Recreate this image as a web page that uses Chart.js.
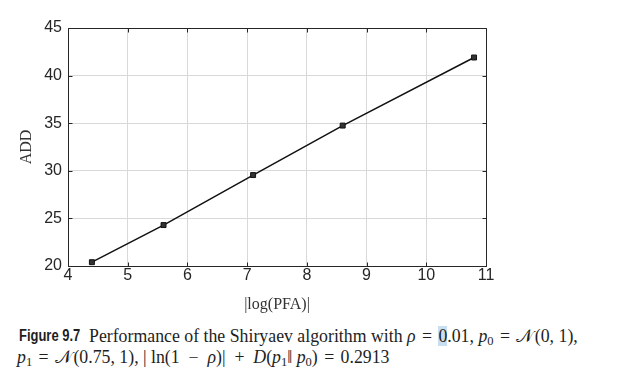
<!DOCTYPE html>
<html>
<head>
<meta charset="utf-8">
<script src="https://cdn.jsdelivr.net/npm/chart.js@4.4.1/dist/chart.umd.min.js"></script>
<style>
  html, body { margin: 0; padding: 0; background: #fff; }
  body { width: 624px; height: 374px; position: relative; overflow: hidden; }
  #wrap { position: absolute; left: 0; top: 0; width: 624px; height: 314px; }
  .cap { position: absolute; font-family: "Liberation Serif", "Times New Roman", serif; font-size: 17.8px; color: #1e1e1e; white-space: nowrap; line-height: 20px; }
  .fig { position: absolute; left: 19px; top: 326px; font-family: "Liberation Sans", Arial, sans-serif; font-weight: bold; font-size: 16px; line-height: 20px; color: #1e1e1e; white-space: nowrap; transform: scaleX(0.81); transform-origin: left center; }
  .m { font-style: italic; }
  sub { font-size: 12.5px; vertical-align: -3px; line-height: 0; font-style: normal; }
  .rel { margin: 0 0.36em; }
  .bin { margin: 0 0.5em; }
  .cal { font-style: normal; margin-right: 0.08em; }
  .hl { background: #c9dff0; }
</style>
</head>
<body>
<div id="wrap"><canvas id="c" width="624" height="314"></canvas></div>
<div class="fig">Figure 9.7</div>
<div class="cap" style="left:89px; top:326px;">Performance of the Shiryaev algorithm with <span class="m">ρ</span><span class="rel">=</span><span class="hl">0</span>.01, <span class="m">p</span><sub>0</sub><span class="rel">=</span><span class="cal">𝒩</span>(0, 1),</div>
<div class="cap" style="left:17px; top:347px;"><span class="m">p</span><sub>1</sub><span class="rel">=</span><span class="cal">𝒩</span>(0.75, 1), | ln(1<span class="bin">−</span><span class="m">ρ</span>)|<span class="bin">+</span><span class="m">D</span>(<span class="m">p</span><sub>1</sub>‖ <span class="m">p</span><sub>0</sub>)<span class="rel">=</span>0.2913</div>
<script>
const logPFA = [4.4, 5.6, 7.1, 8.6, 10.8];
const addValues = [20.4, 24.3, 29.55, 34.75, 41.9];
const xTicks = [4, 5, 6, 7, 8, 9, 10, 11];
const yTicks = [20, 25, 30, 35, 40, 45];
const xTitle = '|log(PFA)|';
const yTitle = 'ADD';

const points = logPFA.map((x, i) => ({ x: x, y: addValues[i] }));

const framePlugin = {
  id: 'frame',
  afterDraw(chart) {
    const { ctx, chartArea: a, scales } = chart;
    ctx.save();
    ctx.strokeStyle = '#262626';
    ctx.lineWidth = 1;
    const L = Math.round(a.left) + 0.5, R = Math.round(a.right) + 0.5;
    const T = Math.round(a.top) + 0.5, B = Math.round(a.bottom) + 0.5;
    ctx.beginPath();
    ctx.rect(L, T, R - L, B - T);
    ctx.stroke();
    const tl = 4;
    ctx.beginPath();
    xTicks.forEach(v => {
      const px = Math.round(scales.x.getPixelForValue(v)) + 0.5;
      ctx.moveTo(px, B); ctx.lineTo(px, B - tl);
      ctx.moveTo(px, T); ctx.lineTo(px, T + tl);
    });
    yTicks.forEach(v => {
      const py = Math.round(scales.y.getPixelForValue(v)) + 0.5;
      ctx.moveTo(L, py); ctx.lineTo(L + tl, py);
      ctx.moveTo(R, py); ctx.lineTo(R - tl, py);
    });
    ctx.stroke();
    ctx.restore();
  }
};

new Chart(document.getElementById('c'), {
  type: 'scatter',
  data: {
    datasets: [{
      data: points,
      showLine: true,
      borderColor: '#111',
      borderWidth: 1.5,
      backgroundColor: '#333',
      pointStyle: 'rect',
      pointRadius: 3.5,
      pointBorderColor: '#111',
      pointBorderWidth: 1,
      tension: 0
    }]
  },
  options: {
    responsive: false,
    animation: false,
    events: [],
    layout: { padding: { left: 0, top: 28, right: 138, bottom: 0 } },
    plugins: { legend: { display: false }, tooltip: { enabled: false } },
    scales: {
      x: {
        type: 'linear', min: 4, max: 11,
        afterBuildTicks: s => { s.ticks = xTicks.map(v => ({ value: v })); },
        afterFit: s => { s.height = 48; },
        grid: { color: '#d9d9d9', lineWidth: 1, drawTicks: false },
        border: { display: false },
        ticks: { color: '#262626', padding: 0, font: { family: '"Liberation Sans", Arial, sans-serif', size: 16 }, maxRotation: 0 },
        title: { display: true, text: xTitle, color: '#333', font: { family: '"Liberation Serif", "Times New Roman", serif', size: 16 }, padding: { top: 0, bottom: 0 } }
      },
      y: {
        type: 'linear', min: 20, max: 45,
        afterBuildTicks: s => { s.ticks = yTicks.map(v => ({ value: v })); },
        afterFit: s => { s.width = 68; },
        grid: { color: '#d9d9d9', lineWidth: 1, drawTicks: false },
        border: { display: false },
        ticks: { color: '#262626', padding: 6, font: { family: '"Liberation Sans", Arial, sans-serif', size: 16 } },
        title: { display: true, text: yTitle, color: '#333', font: { family: '"Liberation Serif", "Times New Roman", serif', size: 16 }, padding: { top: 17, bottom: 0 } }
      }
    }
  },
  plugins: [framePlugin]
});
</script>
</body>
</html>
